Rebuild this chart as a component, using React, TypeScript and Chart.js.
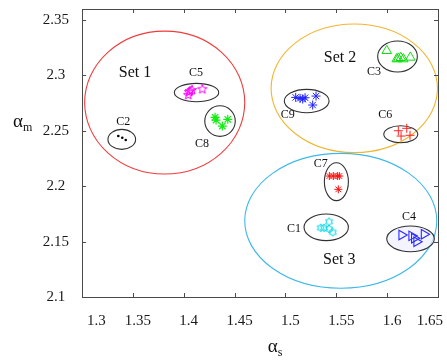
import React, { useEffect, useRef } from 'react';
import { Chart, registerables } from 'chart.js';

Chart.register(...registerables);

// ---- axes ----
const X_MIN = 1.3;
const X_MAX = 1.65;
const Y_MIN = 2.1;
const Y_MAX = 2.36;
const X_TICKS = [1.3, 1.35, 1.4, 1.45, 1.5, 1.55, 1.6, 1.65];
const Y_TICKS = [2.1, 2.15, 2.2, 2.25, 2.3, 2.35];

// ---- cluster points ----
const C1_X = [1.5347, 1.538, 1.5429, 1.5429, 1.5465];
const C1_Y = [2.1625, 2.1625, 2.168, 2.1614, 2.1584];
const C2_X = [1.3357, 1.3396, 1.343];
const C2_Y = [2.2453, 2.2438, 2.2417];
const C3_X = [1.5996, 1.6094, 1.611, 1.6134, 1.6159, 1.6228];
const C3_Y = [2.3223, 2.3148, 2.3154, 2.316, 2.3148, 2.3163];
const C4_X = [1.6143, 1.6241, 1.6267, 1.629, 1.6363];
const C4_Y = [2.156, 2.1552, 2.153, 2.1499, 2.1566];
const C5_X = [1.4045, 1.4052, 1.4062, 1.4082, 1.4183];
const C5_Y = [2.2823, 2.285, 2.2859, 2.2868, 2.2875];
const C6_X = [1.611, 1.6137, 1.6193, 1.6225];
const C6_Y = [2.2501, 2.2453, 2.2523, 2.246];
const C7_X = [1.5432, 1.5471, 1.5511, 1.553, 1.552];
const C7_Y = [2.2092, 2.2092, 2.2092, 2.2092, 2.1972];
const C8_X = [1.4308, 1.4318, 1.4433, 1.438];
const C8_Y = [2.2622, 2.2597, 2.2604, 2.2543];
const C9_X = [1.5101, 1.5144, 1.517, 1.5193, 1.5301, 1.5268];
const C9_Y = [2.2802, 2.2793, 2.2787, 2.2799, 2.2814, 2.2733];

// ---- ellipses (data units) ----
const ELL_NAMES = ['Set 1', 'Set 2', 'Set 3', 'C1', 'C2', 'C3', 'C4', 'C5', 'C6', 'C7', 'C8', 'C9'];
const ELL_CX = [1.3813, 1.5677, 1.5544, 1.5401, 1.3391, 1.6102, 1.623, 1.4126, 1.6134, 1.5501, 1.4357, 1.5209];
const ELL_CY = [2.2755, 2.2884, 2.1688, 2.1629, 2.2423, 2.3171, 2.1525, 2.2846, 2.2469, 2.2041, 2.2588, 2.2769];
const ELL_RX = [0.0787, 0.0818, 0.0944, 0.0218, 0.0136, 0.0195, 0.0234, 0.0218, 0.0167, 0.0118, 0.015, 0.022];
const ELL_RY = [0.0645, 0.058, 0.0609, 0.012, 0.009, 0.014, 0.0116, 0.0083, 0.0077, 0.0171, 0.0138, 0.0105];

// ---- text labels (data units) ----
const LABEL_TEXT = ['Set 1', 'Set 2', 'Set 3', 'C1', 'C2', 'C3', 'C4', 'C5', 'C6', 'C7', 'C8', 'C9'];
const LABEL_X = [1.3521, 1.5537, 1.553, 1.5085, 1.3406, 1.5871, 1.6215, 1.4121, 1.5982, 1.5347, 1.418, 1.5023];
const LABEL_Y = [2.3022, 2.3163, 2.1334, 2.1614, 2.2579, 2.3031, 2.1725, 2.3028, 2.264, 2.22, 2.2381, 2.264];

const X_TITLE = 'α';
const X_TITLE_SUB = 's';
const Y_TITLE = 'α';
const Y_TITLE_SUB = 'm';

const SERIF = '"Liberation Serif", "Times New Roman", serif';

function pts(xs: number[], ys: number[]) {
  return xs.map((x, i) => ({ x, y: ys[i] }));
}

function makeStar(points: number, color: string, size: number, inner: number) {
  const c = document.createElement('canvas');
  c.width = size;
  c.height = size;
  const ctx = c.getContext('2d')!;
  ctx.strokeStyle = color;
  ctx.lineWidth = 1;
  const cx = size / 2;
  const cy = size / 2;
  const R = size / 2 - 1;
  const r = R * inner;
  ctx.beginPath();
  for (let i = 0; i < points * 2; i++) {
    const a = -Math.PI / 2 + (i * Math.PI) / points;
    const rad = i % 2 === 0 ? R : r;
    const px = cx + rad * Math.cos(a);
    const py = cy + rad * Math.sin(a);
    if (i === 0) ctx.moveTo(px, py);
    else ctx.lineTo(px, py);
  }
  ctx.closePath();
  ctx.stroke();
  return c;
}

function zeroPad(scale: any) {
  scale.paddingTop = 0;
  scale.paddingBottom = 0;
  scale.paddingLeft = 0;
  scale.paddingRight = 0;
}

export default function App() {
  const ref = useRef<HTMLCanvasElement | null>(null);

  useEffect(() => {
    if (!ref.current) return;
    const penta = makeStar(5, '#ff00ff', 12, 0.42);
    const hexa = makeStar(6, '#00d8e8', 10, 0.6);

    const ellColor = (name: string) =>
      name === 'Set 1' ? '#f03c3c' : name === 'Set 2' ? '#f2b530' : name === 'Set 3' ? '#3cb8ea' : '#303030';

    const decorPlugin = {
      id: 'decor',
      beforeDatasetsDraw(chart: any) {
        const { ctx, scales } = chart;
        const xs = scales.x;
        const ys = scales.y;
        ctx.save();
        ELL_NAMES.forEach((name, i) => {
          const cx = xs.getPixelForValue(ELL_CX[i]);
          const cy = ys.getPixelForValue(ELL_CY[i]);
          const rx = Math.abs(xs.getPixelForValue(ELL_CX[i] + ELL_RX[i]) - cx);
          const ry = Math.abs(ys.getPixelForValue(ELL_CY[i] + ELL_RY[i]) - cy);
          ctx.beginPath();
          ctx.ellipse(cx, cy, rx, ry, 0, 0, Math.PI * 2);
          if (name === 'C4') {
            ctx.fillStyle = 'rgba(238,240,255,0.7)';
            ctx.fill();
          }
          ctx.strokeStyle = ellColor(name);
          ctx.lineWidth = 1.1;
          ctx.stroke();
        });
        ctx.restore();
      },
      afterDatasetsDraw(chart: any) {
        const { ctx, scales } = chart;
        const xs = scales.x;
        const ys = scales.y;
        ctx.save();
        ctx.fillStyle = '#111';
        ctx.textAlign = 'center';
        ctx.textBaseline = 'middle';
        LABEL_TEXT.forEach((t, i) => {
          ctx.font = t.startsWith('Set') ? `16px ${SERIF}` : `12px ${SERIF}`;
          ctx.fillText(t, xs.getPixelForValue(LABEL_X[i]), ys.getPixelForValue(LABEL_Y[i]));
        });
        ctx.restore();
      },
      afterDraw(chart: any) {
        const { ctx, chartArea, scales } = chart;
        const { left, right, top, bottom } = chartArea;
        ctx.save();
        ctx.strokeStyle = '#4a4a4a';
        ctx.lineWidth = 1;
        ctx.strokeRect(Math.round(left) + 0.5, Math.round(top) + 0.5, Math.round(right - left), Math.round(bottom - top));
        const tl = 4;
        ctx.beginPath();
        X_TICKS.forEach((v) => {
          const px = Math.round(scales.x.getPixelForValue(v)) + 0.5;
          ctx.moveTo(px, bottom);
          ctx.lineTo(px, bottom - tl);
          ctx.moveTo(px, top);
          ctx.lineTo(px, top + tl);
        });
        Y_TICKS.forEach((v) => {
          const py = Math.round(scales.y.getPixelForValue(v)) + 0.5;
          ctx.moveTo(left, py);
          ctx.lineTo(left + tl, py);
          ctx.moveTo(right, py);
          ctx.lineTo(right - tl, py);
        });
        ctx.stroke();

        // axis titles with subscripts
        ctx.fillStyle = '#111';
        ctx.textBaseline = 'alphabetic';
        ctx.textAlign = 'left';
        ctx.font = `19px ${SERIF}`;
        const aw = ctx.measureText(X_TITLE).width;
        ctx.font = `12px ${SERIF}`;
        const sw = ctx.measureText(X_TITLE_SUB).width;
        const xMid = (left + right) / 2;
        const xStart = xMid + 15 - (aw + sw) / 2;
        ctx.font = `19px ${SERIF}`;
        ctx.fillText(X_TITLE, xStart, 352);
        ctx.font = `12px ${SERIF}`;
        ctx.fillText(X_TITLE_SUB, xStart + aw, 356);
        ctx.font = `19px ${SERIF}`;
        ctx.fillText(Y_TITLE, 13, 127);
        const aw2 = ctx.measureText(Y_TITLE).width;
        ctx.font = `12px ${SERIF}`;
        ctx.fillText(Y_TITLE_SUB, 13 + aw2, 131);
        ctx.restore();
      },
    };

    const chart = new Chart(ref.current, {
      type: 'scatter',
      data: {
        datasets: [
          { label: 'C1', data: pts(C1_X, C1_Y), pointStyle: hexa as any, pointRadius: 5 },
          { label: 'C2', data: pts(C2_X, C2_Y), pointStyle: 'circle', pointRadius: 1.3, backgroundColor: '#000', borderColor: '#000', borderWidth: 0 },
          { label: 'C3', data: pts(C3_X, C3_Y), pointStyle: 'triangle', pointRadius: 5.5, backgroundColor: 'rgba(0,0,0,0)', borderColor: '#10dd10', borderWidth: 1 },
          { label: 'C4', data: pts(C4_X, C4_Y), pointStyle: 'triangle', rotation: 90, pointRadius: 5.5, backgroundColor: 'rgba(0,0,0,0)', borderColor: '#2a2aff', borderWidth: 1.1 } as any,
          { label: 'C5', data: pts(C5_X, C5_Y), pointStyle: penta as any, pointRadius: 5 },
          { label: 'C6', data: pts(C6_X, C6_Y), pointStyle: 'cross', pointRadius: 4.5, borderColor: '#ff2020', borderWidth: 1 },
          { label: 'C7', data: pts(C7_X, C7_Y), pointStyle: 'star', pointRadius: 4, borderColor: '#ff1010', borderWidth: 1 },
          { label: 'C8', data: pts(C8_X, C8_Y), pointStyle: 'star', pointRadius: 4.5, borderColor: '#11ee11', borderWidth: 1.2 },
          { label: 'C9', data: pts(C9_X, C9_Y), pointStyle: 'star', pointRadius: 4.5, borderColor: '#2020ff', borderWidth: 1 },
        ],
      },
      options: {
        animation: false,
        responsive: false,
        maintainAspectRatio: false,
        devicePixelRatio: 1,
        layout: { padding: { top: 9, right: 9, left: 0, bottom: 0 } },
        plugins: { legend: { display: false }, tooltip: { enabled: false } },
        scales: {
          x: {
            type: 'linear',
            min: X_MIN,
            max: X_MAX,
            grid: { display: false, drawTicks: false },
            border: { display: false },
            afterBuildTicks: (scale: any) => {
              scale.ticks = X_TICKS.map((v) => ({ value: v }));
            },
            afterFit: (scale: any) => {
              scale.height = 63;
              zeroPad(scale);
            },
            ticks: {
              padding: 15,
              align: 'inner',
              labelOffset: 5,
              color: '#1a1a1a',
              font: { family: SERIF, size: 15 },
              maxRotation: 0,
              autoSkip: false,
              callback: (v: any) => String(Number(v)),
            },
          },
          y: {
            type: 'linear',
            min: Y_MIN,
            max: Y_MAX,
            grid: { display: false, drawTicks: false },
            border: { display: false },
            afterBuildTicks: (scale: any) => {
              scale.ticks = Y_TICKS.map((v) => ({ value: v }));
            },
            afterFit: (scale: any) => {
              scale.width = 82;
              zeroPad(scale);
            },
            ticks: {
              padding: 13,
              crossAlign: 'center',
              color: '#1a1a1a',
              font: { family: SERIF, size: 15 },
              autoSkip: false,
              callback: (v: any) => String(Number(v)),
            },
          },
        },
      },
      plugins: [decorPlugin],
    } as any);
    return () => chart.destroy();
  }, []);

  return (
    <div style={{ position: 'absolute', left: 0, top: 0, width: 447, height: 360, background: '#fff' }}>
      <canvas ref={ref} width={447} height={360} style={{ display: 'block' }} />
    </div>
  );
}
